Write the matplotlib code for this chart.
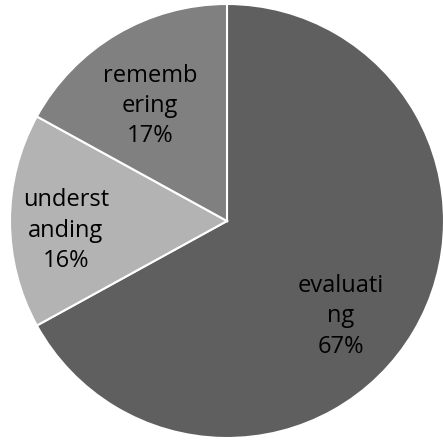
import matplotlib.pyplot as plt

# Data
labels = ["evaluati\nng", "underst\nanding", "rememb\nering"]
shares = [67, 16, 17]
colors = ["#5f5f5f", "#b3b3b3", "#808080"]
# label positions in pie units (radius 1)
label_pos = [(0.525, -0.44), (-0.742, -0.045), (-0.355, 0.53)]

fig = plt.figure(figsize=(4.43, 4.43), dpi=100)
ax = fig.add_axes([0, 0, 1, 1])
ax.pie(shares, colors=colors, startangle=90, counterclock=False, radius=1,
       wedgeprops=dict(edgecolor="white", linewidth=1.5))

for lab, val, (x, y) in zip(labels, shares, label_pos):
    ax.text(x, y, f"{lab}\n{val}%", ha="center", va="center", fontsize=17,
            family="Open Sans", color="black", linespacing=1.35)

r = 217.0
ax.set_xlim(-227 / r, (443 - 227) / r)
ax.set_ylim(-(443 - 221) / r, 221 / r)
ax.set_aspect("auto")
ax.axis("off")

plt.savefig("out.png", dpi=100)
